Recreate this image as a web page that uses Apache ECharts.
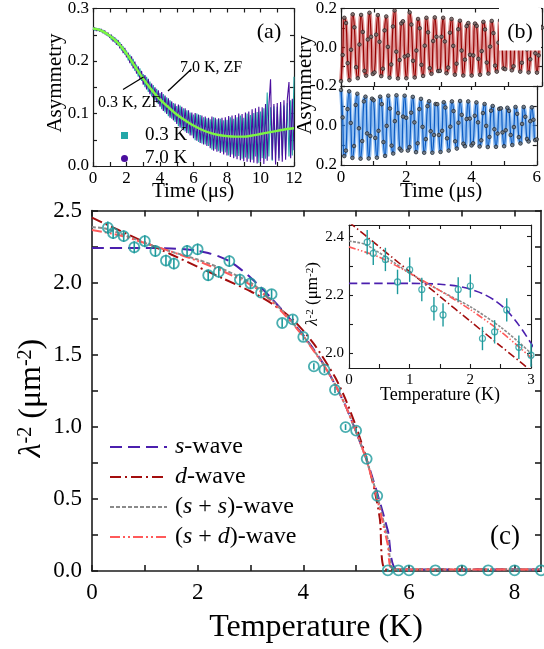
<!DOCTYPE html>
<html><head><meta charset="utf-8">
<script src="https://cdn.jsdelivr.net/npm/echarts@6/dist/echarts.min.js"></script>
<style>html,body{margin:0;padding:0;background:#fff}#c{width:544px;height:649px}</style>
</head><body><div id="c"></div><script>
// ---------- (a) zero-field asymmetry, sampled every 0.1 µs ----------
const stepA = 0.1;
const asym03K = [.264,.258,.263,.257,.262,.255,.259,.251,.255,.247,.251,
.240,.247,.235,.242,.229,.236,.220,.228,.212,.220,
.201,.212,.191,.204,.181,.193,.170,.186,.162,.175,
.150,.170,.141,.161,.133,.154,.125,.147,.118,.139,
.108,.137,.102,.131,.095,.125,.090,.120,.084,.114,
.076,.115,.071,.110,.066,.106,.062,.102,.058,.098,
.049,.100,.046,.097,.043,.093,.041,.091,.038,.089,
.031,.093,.032,.089,.028,.090,.027,.087,.026,.088,
.020,.093,.022,.090,.018,.093,.019,.096,.014,.092,
.016,.100,.014,.097,.012,.101,.018,.103,.006,.104,
.015,.110,.014,.140,.018,.112,.010,.114,.021,.113,
.015,.118,.020,.115,.022,.120,.018,.125,.020,.170];
const asym70K = [.259,.264,.257,.262,.256,.261,.253,.258,.249,.254,.244,
.250,.237,.245,.231,.240,.224,.232,.215,.225,.207,
.216,.196,.209,.186,.199,.176,.190,.166,.181,.155,
.173,.146,.166,.137,.157,.129,.150,.121,.144,.113,
.141,.105,.134,.099,.129,.092,.123,.087,.119,.080,
.117,.073,.113,.068,.110,.063,.106,.058,.102,.053,
.101,.048,.098,.044,.096,.041,.094,.038,.092,.034,
.094,.029,.092,.027,.091,.025,.092,.022,.093,.020,
.095,.017,.096,.015,.097,.013,.100,.011,.099,.009,
.102,.008,.104,.007,.108,.006,.110,.005,.113,.008,
.112,.004,.118,.010,.115,.165,.012,.118,.003,.120,
.010,.122,.008,.125,.012,.127,.160,.015,.128,.030];
const fitZFt = [0,0.5,1,1.5,2,2.5,3,3.5,4,4.5,5,5.5,6,6.5,7,7.5,8,8.5,9,9.5,10,10.5,11,11.5,12];
const fitZF  = [0.262,0.258,0.248,0.234,0.214,0.19,0.166,0.145,0.127,0.112,0.098,0.087,0.077,0.069,0.063,0.059,0.057,0.056,0.056,0.058,0.061,0.064,0.067,0.070,0.072];

// ---------- (b) transverse-field asymmetry, sampled every 0.05 µs ----------
const stepB = 0.05;
const asymTop = [-0.175,-0.040,0.152,0.125,-0.082,-0.170,-0.013,0.170,0.103,-0.103,
-0.160,0.014,0.167,0.079,-0.122,-0.147,0.040,0.178,0.054,-0.138,
-0.130,0.065,0.166,0.028,-0.149,-0.111,0.087,0.159,0.002,-0.157,
-0.089,0.107,0.190,-0.023,-0.161,-0.066,0.123,0.134,-0.048,-0.160,
-0.042,0.180,0.117,-0.070,-0.156,-0.017,0.146,0.098,-0.091,-0.148,
0.008,0.152,0.077,-0.108,-0.137,0.032,0.154,0.054,-0.123,-0.122,
0.054,0.152,0.030,-0.134,-0.105,0.075,0.146,0.007,-0.142,-0.085,
0.093,0.137,-0.017,-0.146,-0.064,0.109,0.125,-0.039,-0.146,-0.042,
0.122,0.110,-0.060,-0.142,-0.020,0.131,0.092,-0.079,-0.136,0.003,
0.136,0.073,-0.095,-0.126,0.024,0.139,0.053,-0.109,-0.113,0.045,
0.137,0.032,-0.119,-0.098,0.064,0.133,0.010,-0.126,-0.080,0.081,
0.125,-0.011,-0.130,-0.062,0.095,0.114,-0.031,-0.131,-0.042,0.107,
0.101];
const asymBottom = [-0.180,-0.041,0.155,0.127,-0.083,-0.173,-0.013,0.164,0.104,-0.104,
-0.161,0.014,0.168,0.079,-0.122,-0.146,0.040,0.167,0.053,-0.136,
-0.128,0.063,0.163,0.027,-0.146,-0.108,0.084,0.154,0.002,-0.151,
-0.086,0.102,0.142,-0.022,-0.153,-0.063,0.117,0.127,-0.045,-0.151,
-0.039,0.127,0.109,-0.065,-0.145,-0.016,0.135,0.090,-0.083,-0.135,
0.007,0.138,0.069,-0.098,-0.123,0.029,0.138,0.048,-0.109,-0.108,
0.048,0.134,0.027,-0.118,-0.091,0.065,0.127,0.006,-0.122,-0.073,
0.080,0.117,-0.014,-0.124,-0.054,0.092,0.105,-0.033,-0.122,-0.035,
0.101,0.090,-0.049,-0.117,-0.016,0.106,0.075,-0.063,-0.109,0.002,
0.109,0.058,-0.075,-0.099,0.019,0.108,0.041,-0.084,-0.087,0.035,
0.105,0.024,-0.090,-0.074,0.048,0.099,0.008,-0.094,-0.059,0.059,
0.091,-0.008,-0.094,-0.044,0.068,0.081,-0.022,-0.092,-0.029,0.074,
0.070];

// ---------- (c) superfluid density ----------
const tempK  = [0.3,0.4,0.6,0.8,1.0,1.2,1.4,1.55,1.8,2.0,2.2,2.4,2.6,2.8,3.0,3.2,3.4,3.6,3.8,4.0,4.2,4.4,4.6,4.8,5.0,5.2,5.4,5.6,5.8,6.0,6.5,7.0,7.5,8.0,8.5];
const lamInv2 = [2.381,2.343,2.322,2.245,2.287,2.219,2.153,2.132,2.219,2.231,2.051,2.074,2.149,2.021,1.994,1.930,1.920,1.720,1.745,1.623,1.419,1.396,1.257,0.998,0.974,0.778,0.521,0.005,0.005,0.005,0.005,0.005,0.005,0.005,0.005];
const lamErr  = [0.042,0.040,0.040,0.042,0.042,0.040,0.040,0.040,0.042,0.040,0.040,0.040,0.040,0.040,0.040,0.032,0.032,0.030,0.030,0.025,0.022,0.022,0.022,0.020,0.020,0.020,0.020,0.010,0.010,0.010,0.010,0.010,0.010,0.010,0.010];
const sWave  = [[0,2.24],[1.0,2.24],[1.5,2.237],[1.8,2.23],[2.0,2.22],[2.2,2.205],[2.4,2.182],[2.6,2.148],[2.8,2.097],[3.0,2.035],[3.2,1.965],[3.4,1.89],[3.6,1.81],[3.8,1.725],[4.0,1.635],[4.2,1.535],[4.4,1.425],[4.6,1.295],[4.8,1.145],[5.0,0.965],[5.2,0.77],[5.4,0.54],[5.6,0.28],[5.79,0.01],[8.5,0.01]];
const dWave  = [[0,2.45],[0.5,2.365],[1.0,2.28],[1.5,2.195],[2.0,2.11],[2.5,2.025],[3.0,1.94],[3.4,1.855],[3.8,1.745],[4.2,1.575],[4.6,1.345],[4.8,1.19],[5.0,1.0],[5.2,0.775],[5.35,0.56],[5.45,0.36],[5.56,0.01],[8.5,0.01]];
const ssWave = [[0,2.385],[0.25,2.375],[0.5,2.345],[0.75,2.31],[1.0,2.275],[1.5,2.215],[2.0,2.16],[2.5,2.09],[3.0,2.0],[3.2,1.945],[3.4,1.88],[3.6,1.805],[3.8,1.72],[4.0,1.63],[4.2,1.53],[4.4,1.42],[4.6,1.295],[4.8,1.145],[5.0,0.965],[5.2,0.765],[5.4,0.52],[5.6,0.22],[5.74,0.01],[8.5,0.01]];
const sdWave = [[0,2.365],[0.5,2.33],[1.0,2.275],[1.5,2.215],[2.0,2.15],[2.5,2.075],[3.0,1.985],[3.2,1.935],[3.4,1.87],[3.6,1.795],[3.8,1.715],[4.0,1.625],[4.2,1.525],[4.4,1.42],[4.6,1.295],[4.8,1.145],[5.0,0.965],[5.2,0.765],[5.4,0.50],[5.6,0.18],[5.7,0.01],[8.5,0.01]];

// ---------- tick positions ----------
const ticksAx = [0,1,2,3,4,5,6,7,8,9,10,11,12], labelsAx = [0,2,4,6,8,10,12];
const ticksAy = [0,0.05,0.1,0.15,0.2,0.25,0.3], labelsAy = [0,0.1,0.2,0.3];
const ticksBx = [0,1,2,3,4,5,6], labelsBx = [0,2,4,6];
const ticksBy = [-0.2,-0.1,0,0.1,0.2], labelsBTop = [-0.2,0,0.2], labelsBBottom = [0,0.2];
const ticksCx = [0,1,2,3,4,5,6,7,8], labelsCx = [0,2,4,6,8];
const ticksCy = [0,0.25,0.5,0.75,1,1.25,1.5,1.75,2,2.25,2.5], labelsCy = [0,0.5,1,1.5,2,2.5];
const ticksIx = [0,0.5,1,1.5,2,2.5,3], labelsIx = [0,1,2,3];
const ticksIy = [2.0,2.1,2.2,2.3,2.4], labelsIy = [2.0,2.2,2.4];

const FONT = 'Liberation Serif';
const INK = '#1c1c1c';
const TEAL = '#1d9a9c', CYAN = '#23a7a8', PURPLE = '#4a0e9e';
const C_S = '#4b1fae', C_D = '#a30d0d', C_SS = '#8a8a8a', C_SD = '#ff5a5a';

function axis(gridIndex, pos, min, max, ticks, labels, o) {
  const a = {
    type: 'value', gridIndex, position: pos, min, max,
    splitLine: {show: false},
    axisLine: {show: true, onZero: false, lineStyle: {color: INK, width: o.lw}},
    axisTick: {show: true, inside: true, length: o.tl, customValues: ticks, lineStyle: {color: INK, width: o.lw}},
    axisLabel: {show: false}
  };
  if (labels) {
    a.axisLabel = {show: true, customValues: labels, fontFamily: FONT, fontSize: o.fs, color: '#000', margin: o.margin};
    if (o.fmt) a.axisLabel.formatter = o.fmt;
  }
  if (o.inverse) a.inverse = true;
  return a;
}
const f1 = v => v.toFixed(1);
const pa = {lw: 1.2, tl: 4, fs: 17, margin: 4};
const pc = {lw: 1.6, tl: 6, fs: 23, margin: 10};
const pi = {lw: 1.1, tl: 4, fs: 15, margin: 5};

const xAxes = [
  axis(0,'bottom',0,12,ticksAx,labelsAx,pa), axis(0,'top',0,12,ticksAx,null,pa),
  axis(1,'bottom',0,6,ticksBx,null,pa), axis(1,'top',0,6,ticksBx,null,pa),
  axis(2,'bottom',0,6,ticksBx,labelsBx,pa), axis(2,'top',0,6,ticksBx,null,pa),
  axis(3,'bottom',0,8.5,ticksCx,labelsCx,pc), axis(3,'top',0,8.5,ticksCx,null,pc),
  axis(4,'bottom',0,3,ticksIx,labelsIx,pi), axis(4,'top',0,3,ticksIx,null,pi)
];
const yAxes = [
  axis(0,'left',0,0.3,ticksAy,labelsAy,Object.assign({fmt:f1},pa)), axis(0,'right',0,0.3,ticksAy,null,pa),
  axis(1,'left',-0.2,0.2,ticksBy,labelsBTop,Object.assign({fmt:f1},pa)), axis(1,'right',-0.2,0.2,ticksBy,null,pa),
  axis(2,'left',-0.2,0.2,ticksBy,labelsBBottom,Object.assign({fmt:f1,inverse:true},pa)), axis(2,'right',-0.2,0.2,ticksBy,null,Object.assign({inverse:true},pa)),
  axis(3,'left',0,2.5,ticksCy,labelsCy,Object.assign({fmt:f1},pc)), axis(3,'right',0,2.5,ticksCy,null,pc),
  axis(4,'left',1.95,2.44,ticksIy,labelsIy,Object.assign({fmt:f1},pi)), axis(4,'right',1.95,2.44,ticksIy,null,pi)
];

const grids = [
  {left: 93, top: 4, width: 201, height: 162},
  {left: 341, top: 7, width: 201, height: 79},
  {left: 341, top: 86, width: 201, height: 79},
  {left: 92, top: 210.5, width: 449, height: 360.5},
  {left: 349, top: 225, width: 182, height: 143, show: true, backgroundColor: '#fff', borderWidth: 0}
];

const series = [];
// (a)
series.push({type:'line', name:'0.3 K', xAxisIndex:0, yAxisIndex:0, data: asym03K.map((v,i)=>[i*stepA, v]),
  symbol:'none', lineStyle:{color:CYAN, width:1.1}, itemStyle:{color:CYAN}, z:2});
series.push({type:'line', name:'7.0 K', xAxisIndex:0, yAxisIndex:0, data: asym70K.map((v,i)=>[i*stepA, v]),
  symbol:'none', lineStyle:{color:PURPLE, width:1.1}, itemStyle:{color:PURPLE}, z:3});
series.push({type:'line', name:'ZF fit', xAxisIndex:0, yAxisIndex:0, data: fitZFt.map((t,i)=>[t, fitZF[i]]),
  symbol:'none', smooth:0.4, lineStyle:{color:'#7cf542', width:2.4}, z:4});

// (b)
function oscSeries(xi, yi, vals, band, line) {
  const d = vals.map((v,i)=>[i*stepB, v]);
  series.push({type:'line', xAxisIndex:xi, yAxisIndex:yi, data:d, symbol:'none', smooth:0.5,
    lineStyle:{color:band, width:4}, z:2});
  series.push({type:'line', xAxisIndex:xi, yAxisIndex:yi, data:d, symbol:'none', smooth:0.5,
    lineStyle:{color:line, width:1.2}, z:3});
  series.push({type:'scatter', xAxisIndex:xi, yAxisIndex:yi, data:d, symbol:'circle', symbolSize:3.6,
    itemStyle:{color:'#7a7a7a', borderColor:'#151515', borderWidth:0.8}, z:4});
}
oscSeries(2, 2, asymTop, 'rgba(195,60,60,0.55)', '#960000');
oscSeries(4, 4, asymBottom, 'rgba(70,145,230,0.6)', '#0b5cc4');

// (c) model curves, main and inset
const models = [
  {name:'s-wave', data:sWave, color:C_S, dash:[12,6]},
  {name:'d-wave', data:dWave, color:C_D, dash:[11,4,2,4]},
  {name:'(s+s)-wave', data:ssWave, color:C_SS, dash:[4,2]},
  {name:'(s+d)-wave', data:sdWave, color:C_SD, dash:[10,3,2,3,2,3]}
];
models.forEach(m => {
  series.push({type:'line', name:m.name, xAxisIndex:6, yAxisIndex:6, data:m.data, symbol:'none',
    smooth:0.25, lineStyle:{color:m.color, width:2, type:m.dash}, itemStyle:{color:m.color}, z:3});
  series.push({type:'line', name:'inset ' + m.name, xAxisIndex:8, yAxisIndex:8, data:m.data, symbol:'none',
    smooth:0.25, lineStyle:{color:m.color, width:1.6, type:m.dash.map(v=>v*0.7)}, z:3});
});
const points = tempK.map((t,i)=>[t, lamInv2[i], lamErr[i]]);
const errBar = (w) => (params, api) => {
  const x = api.value(0), y = api.value(1), e = api.value(2);
  const p1 = api.coord([x, y - e]), p2 = api.coord([x, y + e]);
  return {type:'line', shape:{x1:p1[0], y1:p1[1], x2:p2[0], y2:p2[1]}, style:{stroke:TEAL, lineWidth:w}};
};
series.push({type:'custom', xAxisIndex:6, yAxisIndex:6, data:points, encode:{x:0, y:1}, renderItem:errBar(1.6), z:5});
series.push({type:'scatter', xAxisIndex:6, yAxisIndex:6, data:points.map(p=>[p[0],p[1]]), symbol:'circle', symbolSize:10,
  itemStyle:{color:'rgba(0,0,0,0)', borderColor:TEAL, borderWidth:1.8}, z:6});
const insetPts = points.filter(p => p[0] <= 3.01);
series.push({type:'custom', xAxisIndex:8, yAxisIndex:8, data:insetPts, encode:{x:0, y:1}, renderItem:errBar(1.4), z:5});
series.push({type:'scatter', xAxisIndex:8, yAxisIndex:8, data:insetPts.map(p=>[p[0],p[1]]), symbol:'circle', symbolSize:6,
  itemStyle:{color:'rgba(0,0,0,0)', borderColor:TEAL, borderWidth:1.2}, z:6});

const legendNames = {'s-wave':'{i|s}-wave', 'd-wave':'{i|d}-wave', '(s+s)-wave':'({i|s} + {i|s})-wave', '(s+d)-wave':'({i|s} + {i|d})-wave'};

function txt(x, y, text, size, extra) {
  return Object.assign({type:'text', x, y, z:100,
    style:{text, fontFamily:FONT, fontSize:size, fill:'#000', align:'center', verticalAlign:'middle'}}, extra || {});
}
const supRich = (fs) => ({
  i:{fontStyle:'italic', fontFamily:FONT, fontSize:fs},
  s:{fontFamily:FONT, fontSize:Math.round(fs*0.62), verticalAlign:'top'}
});

const graphics = [
  txt(55, 83, 'Asymmetry', 21, {rotation: Math.PI/2}),
  txt(193, 191, 'Time (μs)', 21),
  txt(269, 32, '(a)', 22),
  txt(211, 68, '7.0 K, ZF', 16),
  txt(129, 103, '0.3 K, ZF', 16),
  {type:'line', z:100, shape:{x1:123, y1:89.5, x2:143.5, y2:77}, style:{stroke:'#000', lineWidth:1.3}},
  {type:'line', z:100, shape:{x1:168, y1:91, x2:191.5, y2:69}, style:{stroke:'#000', lineWidth:1.3}},
  txt(305, 85, 'Asymmetry', 21, {rotation: Math.PI/2}),
  txt(441, 191, 'Time (μs)', 21),
  {type:'rect', z:99, shape:{x:499, y:7.5, width:42, height:43}, style:{fill:'#fff'}},
  txt(520, 32, '(b)', 22),
  {type:'text', x:32, y:398, z:100, rotation: Math.PI/2,
    style:{text:'{i|λ}{s|-2} (μm{s|-2})', fontFamily:FONT, fontSize:32, fill:'#000', align:'center', verticalAlign:'middle', rich: supRich(32)}},
  txt(316, 628, 'Temperature (K)', 32),
  txt(505, 537, '(c)', 27),
  {type:'text', x:313, y:294, z:100, rotation: Math.PI/2,
    style:{text:'{i|λ}{s|-2} (μm{s|-2})', fontFamily:FONT, fontSize:17, fill:'#000', align:'center', verticalAlign:'middle', rich: supRich(17)}},
  txt(440, 395, 'Temperature (K)', 18)
];

const chart = echarts.init(document.getElementById('c'), null, {renderer:'canvas', width:544, height:649});
chart.setOption({
  animation: false,
  backgroundColor: '#fff',
  grid: grids,
  xAxis: xAxes,
  yAxis: yAxes,
  legend: [
    {orient:'vertical', left:104, top:430, itemWidth:57, itemHeight:14, itemGap:6,
     data: Object.keys(legendNames), selectedMode:false,
     itemStyle:{color:'rgba(0,0,0,0)', borderColor:'rgba(0,0,0,0)', borderWidth:0, opacity:0},
     formatter: n => legendNames[n],
     textStyle:{fontFamily:FONT, fontSize:24, color:'#000', padding:[0,0,0,3], rich:{i:{fontStyle:'italic', fontFamily:FONT, fontSize:24}}}},
    {orient:'vertical', left:116, top:121, itemWidth:7, itemHeight:7, itemGap:4, selectedMode:false,
     data:[{name:'0.3 K', icon:'rect'}, {name:'7.0 K', icon:'circle'}],
     textStyle:{fontFamily:FONT, fontSize:19, color:'#000', padding:[0,0,0,12]}}
  ],
  series,
  graphic: graphics
});
</script></body></html>
